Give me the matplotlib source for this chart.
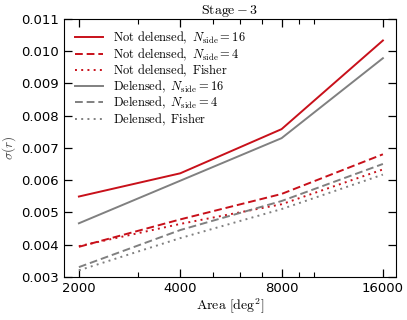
import matplotlib
matplotlib.use("Agg")
import matplotlib.pyplot as plt
from matplotlib.ticker import FixedLocator, NullFormatter, LogLocator

plt.rcParams["mathtext.fontset"] = "cm"

area = [2000, 4000, 8000, 16000]
nd_n16 = [0.00549, 0.00621, 0.00758, 0.01033]
nd_n4 = [0.00393, 0.00478, 0.00557, 0.00680]
nd_fisher = [0.00395, 0.00464, 0.00525, 0.00633]
d_n16 = [0.00466, 0.00598, 0.00730, 0.00978]
d_n4 = [0.00330, 0.00445, 0.00535, 0.00650]
d_fisher = [0.00320, 0.00420, 0.00510, 0.00617]

red = "#c8101a"
grey = "#808080"

fig = plt.figure(figsize=(4.07, 3.2), dpi=100)
ax = fig.add_axes([0.157, 0.135, 0.816, 0.806])

lw = 1.4
ax.plot(area, nd_n16, color=red, lw=lw, label=r"$\mathrm{Not\ delensed},\ N_{\rm side}=16$")
ax.plot(area, nd_n4, color=red, lw=lw, ls=(0, (4, 2)), label=r"$\mathrm{Not\ delensed},\ N_{\rm side}=4$")
ax.plot(area, nd_fisher, color=red, lw=lw, ls=(0, (1, 2.2)), label=r"$\mathrm{Not\ delensed},\ \mathrm{Fisher}$")
ax.plot(area, d_n16, color=grey, lw=lw, label=r"$\mathrm{Delensed},\ N_{\rm side}=16$")
ax.plot(area, d_n4, color=grey, lw=lw, ls=(0, (4, 2)), label=r"$\mathrm{Delensed},\ N_{\rm side}=4$")
ax.plot(area, d_fisher, color=grey, lw=lw, ls=(0, (1, 2.2)), label=r"$\mathrm{Delensed},\ \mathrm{Fisher}$")

ax.set_xscale("log")
ax.set_xlim(1805, 17500)
ax.set_ylim(0.003, 0.011)
ax.xaxis.set_major_locator(FixedLocator(area))
ax.xaxis.set_major_formatter(plt.FixedFormatter([str(a) for a in area]))
ax.xaxis.set_minor_locator(LogLocator(base=10, subs=range(1, 10)))
ax.xaxis.set_minor_formatter(NullFormatter())
ax.set_yticks([0.003 + 0.001 * i for i in range(9)])
ax.yaxis.set_major_formatter(plt.FuncFormatter(lambda v, p: f"{v:.3f}"))

ax.tick_params(which="both", direction="in", top=True, right=True, labelsize=9.5)
ax.tick_params(which="major", length=6, width=0.9)
ax.tick_params(which="minor", length=3.5, width=0.8)
ax.tick_params(axis="x", pad=4)

ax.set_xlabel(r"$\mathrm{Area}\ [\mathrm{deg}^2]$", fontsize=10, labelpad=1)
ax.set_ylabel(r"$\sigma(r)$", fontsize=9.5, labelpad=2, color="#444444")
ax.set_title(r"$\mathrm{Stage}-3$", fontsize=10, pad=3)

ax.legend(loc="upper left", frameon=False, fontsize=9, handlelength=2.2,
          labelspacing=0.0, borderaxespad=0.5, handletextpad=0.8)

fig.savefig("out.png", dpi=100)
